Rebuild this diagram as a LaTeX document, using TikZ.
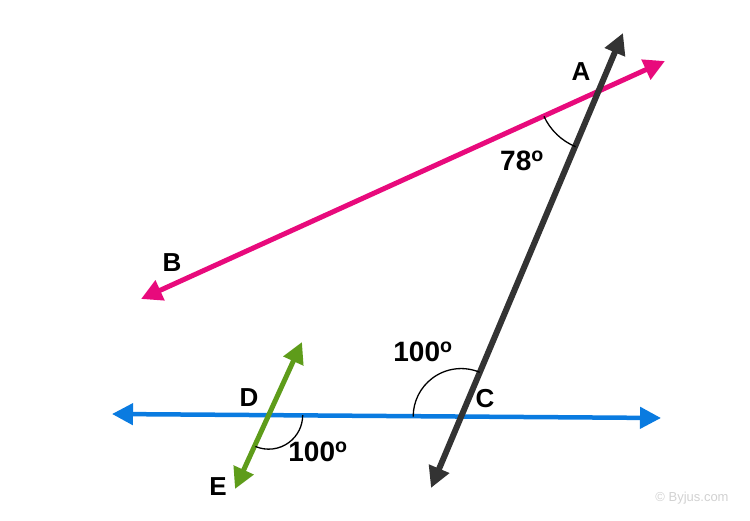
\documentclass[tikz,border=0pt]{standalone}
\usepackage{fontspec}
\setmainfont{Liberation Sans}
\usetikzlibrary{arrows.meta}
\definecolor{pinkline}{RGB}{232,10,124}
\definecolor{blueline}{RGB}{10,123,224}
\definecolor{greenline}{RGB}{94,156,26}
\definecolor{darkline}{RGB}{51,51,51}
\tikzset{
  ray/.style={line width=5pt, {Triangle[length=21pt,width=21pt]}-{Triangle[length=21pt,width=21pt]}},
  lbl/.style={font=\fontsize{26}{26}\selectfont\bfseries, inner sep=0pt},
  num/.style={font=\fontsize{28}{28}\selectfont\bfseries, inner sep=0pt},
  anglearc/.style={line width=1.3pt, black}
}
\begin{document}
\begin{tikzpicture}[x=1pt,y=-1pt]
\useasboundingbox (0,0) rectangle (750,521);
% endpoints
\coordinate (Ktop) at (623,33);
\coordinate (Kbot) at (431,488);
\coordinate (Pr) at (665,61);
\coordinate (Pl) at (141,299);
\coordinate (Bl) at (112,414);
\coordinate (Br) at (661,418);
\coordinate (Gt) at (302,342);
\coordinate (Gb) at (235,489);
% intersections
\coordinate (A) at (intersection of Ktop--Kbot and Pr--Pl);
\coordinate (C) at (intersection of Ktop--Kbot and Bl--Br);
\coordinate (D) at (intersection of Gt--Gb and Bl--Br);
% lines
\draw[ray, blueline, line width=4.5pt] (Bl) -- (Br);
\draw[ray, pinkline] (Pl) -- (Pr);
\draw[ray, greenline] (Gb) -- (Gt);
\draw[ray, darkline, line width=6pt] (Kbot) -- (Ktop);
% angle arcs
\draw[anglearc] ([shift={(204.7:60pt)}]A) arc[start angle=204.7, end angle=247.6, radius=60pt];
\draw[anglearc] ([shift={(67.3:48pt)}]C) arc[start angle=67.3, end angle=180, radius=48pt];
\draw[anglearc] ([shift={(247:34pt)}]D) arc[start angle=247, end angle=360, radius=34pt];
% labels
\node[lbl] (lA) at (581,72) {A};
\node[lbl] (lB) at (172,263) {B};
\node[lbl] (lC) at (485,399) {C};
\node[lbl] (lD) at (249,398) {D};
\node[lbl] (lE) at (218,487) {E};
\node[num] (n78) at (522,161) {78\textsuperscript{o}};
\node[num] (n100a) at (423,352) {100\textsuperscript{o}};
\node[num] (n100b) at (318,452) {100\textsuperscript{o}};
\node[font=\fontsize{13}{13}\selectfont, text=black!18, inner sep=0pt] (wm) at (692,498) {© Byjus.com};
\end{tikzpicture}
\end{document}
